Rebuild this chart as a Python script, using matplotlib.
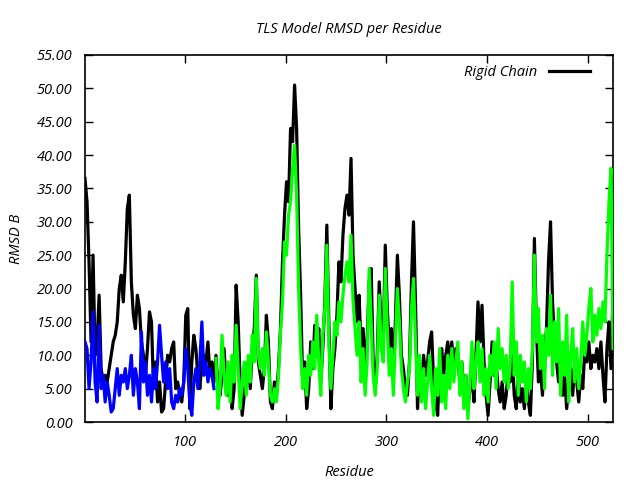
import numpy as np
import matplotlib
matplotlib.use("Agg")
import matplotlib.pyplot as plt
from matplotlib import font_manager

# Residue numbers (every 2nd residue)
rigid_res = list(range(1, 526, 2))
rigid_vals = [
    36.5, 33, 24, 12, 25,
    10, 12, 19, 8, 6,
    7, 6, 8, 10, 12,
    13, 15, 20, 22, 18,
    24, 32, 34, 21, 16,
    14, 19, 17, 12, 10,
    7, 11, 16.5, 15, 5,
    9, 3, 6, 1.5, 2,
    6, 10, 9, 11, 12,
    5, 6, 4, 3, 6,
    16, 17, 2, 9, 13,
    11, 7, 5, 9, 10,
    9, 12, 7, 9, 6,
    10, 5, 4, 7, 11,
    6, 4, 8, 2, 5,
    20.5, 15, 6, 1, 4,
    7, 9, 5, 11, 14,
    22, 9, 7, 5, 8,
    16, 12, 3, 2, 6,
    4, 8, 14, 24, 31,
    36, 33, 44, 42, 50.5,
    44, 29, 19, 6, 9,
    2, 5, 12, 8, 14.5,
    10, 14, 6, 11, 18,
    29.5, 15, 2, 8, 11,
    16, 24, 21, 28, 32,
    34, 31, 39.5, 25, 20,
    15, 19, 11, 14, 9,
    12, 21, 23, 9, 5,
    10, 21, 14, 12, 26.5,
    17, 11, 14, 8, 15,
    25, 19, 10, 8, 5,
    4, 9, 21, 30, 18,
    2, 8, 5, 10, 7,
    9, 12, 13.5, 6, 3,
    1, 9, 11, 7, 10,
    12, 9, 12, 8, 11,
    10, 6, 9, 4, 7,
    2, 5, 7, 3, 10,
    18, 12, 17.5, 9, 4,
    1, 6, 12, 7, 9,
    5, 3, 6, 2, 4,
    8, 6, 10, 4, 2,
    7, 3, 5, 2, 6,
    3, 1, 9, 27.5, 14,
    6, 8, 4, 10, 14,
    24, 30, 18, 12, 9,
    6, 10, 4, 7, 2,
    5, 8, 4, 9, 6,
    3, 7, 5, 11, 9,
    12, 8, 10, 9, 11,
    8, 12, 7, 3, 11,
    15, 8, 19,
]

blue_res = list(range(1, 130, 2))
blue_vals = [
    12, 11, 5, 9, 16.5,
    6, 3, 14.5, 5, 7,
    3, 6, 4, 1.5, 2,
    5, 8, 4, 7, 6,
    8, 5, 7, 10, 4,
    8, 6, 2, 13.5, 6,
    9, 4, 7, 3, 8,
    5, 9, 14.5, 10, 6,
    9, 5, 8, 3, 2,
    4, 3, 5, 4, 6,
    11, 8, 3, 1, 6,
    8, 5, 9, 15, 7,
    9, 6, 8, 7, 5,
]

green_res = list(range(131, 526, 2))
green_vals = [
    9.5, 2, 5, 13, 7,
    4, 9, 3, 10, 6,
    14.5, 8, 2, 6, 9,
    4, 10, 6, 13, 9,
    21.5, 10, 8, 11, 7,
    13.5, 9, 4, 3, 5,
    3, 7, 13.5, 18, 27,
    25, 31, 33, 38, 41.5,
    34, 20, 11, 5, 8,
    4, 10, 7, 12, 8,
    16, 9, 4, 13, 17,
    26.5, 12, 5, 10, 15,
    13, 18, 15, 19, 22,
    24, 21, 28, 18, 14,
    10, 15, 6, 11, 4,
    9, 23, 15, 7, 4,
    8, 19, 11, 9, 23,
    14, 7, 11, 4, 12,
    20, 15, 8, 5, 3,
    6, 8, 17, 21.5, 12,
    4, 10, 3, 8, 2,
    6, 10, 5, 1, 8,
    4, 11, 3, 7, 2,
    10, 5, 11, 6, 9,
    12, 4, 9, 2, 7,
    0.5, 6, 12, 5, 9,
    12, 6, 11, 4, 8,
    3, 10, 7, 12, 5,
    14, 8, 11, 6, 10,
    5, 9, 21, 7, 12,
    4, 10, 6, 9, 3,
    8, 5, 11, 25, 12,
    17, 8, 13, 5, 14,
    10, 19, 7, 15, 9,
    17, 4, 12, 7, 16,
    3, 10, 14, 6, 11,
    5, 9, 15, 10, 13,
    17, 20, 12, 16, 13,
    17, 14, 18, 15, 25,
    33, 38, 11,
]

yticks = [0, 5, 10, 15, 20, 25, 30, 35, 40, 45, 50, 55]
xticks = [100, 200, 300, 400, 500]

available = {f.name for f in font_manager.fontManager.ttflist}
fam = [f for f in ['DejaVu Sans Condensed', 'Liberation Sans Narrow', 'Open Sans', 'DejaVu Sans']
       if f in available]
if not fam:
    fam = ['DejaVu Sans']
plt.rcParams['font.family'] = fam
fs = 10.5 if fam[0] != 'DejaVu Sans' else 8.5

fig = plt.figure(figsize=(6.4, 4.8), dpi=100)
ax = fig.add_axes([85/640, 58/480, 528/640, 367/480])

ax.plot(rigid_res, rigid_vals, color='black', lw=2.3, label='Rigid Chain', zorder=2)
ax.plot(blue_res, blue_vals, color='#0000ff', lw=2.3, zorder=3)
ax.plot(green_res, green_vals, color='#00ff00', lw=2.3, zorder=3)

ax.set_xlim(1, 525)
ax.set_ylim(0, 55)
ax.set_yticks(yticks)
ax.set_yticklabels([f"{v:.2f}" for v in yticks], fontsize=fs, style='italic')
ax.set_xticks(xticks)
ax.set_xticklabels([str(v) for v in xticks], fontsize=fs, style='italic')
ax.tick_params(direction='in', length=6, width=1, top=True, right=True, pad=9)
for s in ax.spines.values():
    s.set_linewidth(1.2)

ax.set_title('TLS Model RMSD per Residue', fontsize=fs, style='italic', pad=16)
ax.set_xlabel('Residue', fontsize=fs, style='italic', labelpad=11)
ax.set_ylabel('RMSD B', fontsize=fs, style='italic', labelpad=9)

leg = ax.legend(loc='upper right', frameon=False, handlelength=2.8, markerfirst=False,
                prop={'family': fam, 'style': 'italic', 'size': fs},
                borderaxespad=0.3, bbox_to_anchor=(0.975, 1.0))

fig.savefig('out.png', dpi=100)
